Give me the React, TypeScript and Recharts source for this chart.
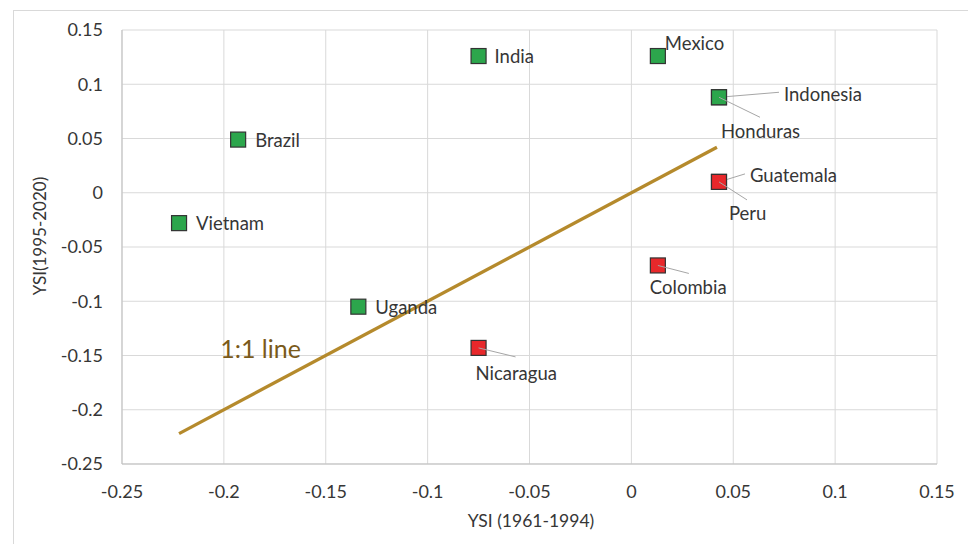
import React from "react";
import {
  ScatterChart,
  Scatter,
  XAxis,
  YAxis,
  CartesianGrid,
  ReferenceLine,
  ReferenceDot,
} from "recharts";

// ---- data ----
const greenCountries = ["Vietnam", "Brazil", "India", "Mexico", "Indonesia", "Honduras", "Uganda"];
const greenX = [-0.222, -0.193, -0.075, 0.013, 0.043, 0.043, -0.134];
const greenY = [-0.028, 0.049, 0.126, 0.126, 0.088, 0.088, -0.105];

const redCountries = ["Guatemala", "Peru", "Colombia", "Nicaragua"];
const redX = [0.043, 0.043, 0.013, -0.075];
const redY = [0.010, 0.010, -0.067, -0.143];

const oneToOneStart = -0.222;
const oneToOneEnd = 0.042;

const axisTicks = [-0.25, -0.2, -0.15, -0.1, -0.05, 0, 0.05, 0.1, 0.15];
const xTitle = "YSI (1961-1994)";
const yTitle = "YSI(1995-2020)";
const lineLabel = "1:1 line";

// ---- label layout (text start / baseline offsets, optional leader endpoint) ----
const LABEL_LAYOUT: Record<string, { dx: number; dy: number; lx?: number; ly?: number }> = {
  Vietnam: { dx: 17, dy: 7 },
  Brazil: { dx: 17, dy: 7 },
  India: { dx: 16, dy: 7 },
  Uganda: { dx: 17, dy: 7 },
  Mexico: { dx: 7, dy: -6 },
  Indonesia: { dx: 65, dy: 4, lx: 60, ly: -5 },
  Honduras: { dx: 2, dy: 41, lx: 41, ly: 20 },
  Guatemala: { dx: 31, dy: 0, lx: 26, ly: -8 },
  Peru: { dx: 10, dy: 38, lx: 28, ly: 18 },
  Colombia: { dx: -8, dy: 29, lx: 31, ly: 8 },
  Nicaragua: { dx: -3, dy: 32, lx: 37, ly: 9 },
};

const greenData = greenCountries.map((name, i) => ({ name, x: greenX[i], y: greenY[i] }));
const redData = redCountries.map((name, i) => ({ name, x: redX[i], y: redY[i] }));

const FONT = "Lato, 'Open Sans', sans-serif";
const TEXT_COLOR = "#363636";

const makeShape = (fill: string) => (props: any) => {
  const { cx, cy, payload } = props;
  if (cx == null || cy == null) return <g />;
  const s = 15;
  const lay = LABEL_LAYOUT[payload?.name] || { dx: 17, dy: 7 };
  return (
    <g>
      <rect x={cx - s / 2} y={cy - s / 2} width={s} height={s} fill={fill} stroke="#333333" strokeWidth={1.2} />
      {lay.lx != null && (
        <line x1={cx} y1={cy} x2={cx + lay.lx} y2={cy + (lay.ly || 0)} stroke="#a6a6a6" strokeWidth={1} />
      )}
      <text x={cx + lay.dx} y={cy + lay.dy} fill={TEXT_COLOR} fontSize={18.5} fontFamily={FONT}>
        {payload?.name}
      </text>
    </g>
  );
};

const GreenShape = makeShape("#2ca64c");
const RedShape = makeShape("#e8282b");

export default function App() {
  return (
    <div style={{ position: "absolute", left: 0, top: 0, width: 968, height: 544, overflow: "hidden", background: "#fff" }}>
      <div
        style={{
          position: "absolute",
          left: 13,
          top: 10,
          width: 1000,
          height: 600,
          border: "1px solid #d9d9d9",
        }}
      />
      <div style={{ position: "absolute", left: 0, top: 0 }}>
        <ScatterChart width={968} height={544} margin={{ top: 30, right: 31, bottom: 30, left: 62 }}>
          <CartesianGrid stroke="#d9d9d9" strokeWidth={1} />
          <XAxis
            type="number"
            dataKey="x"
            domain={[-0.25, 0.15]}
            ticks={axisTicks}
            allowDataOverflow
            height={50}
            tickSize={0}
            tickMargin={21}
            tickLine={false}
            axisLine={{ stroke: "#bfbfbf" }}
            tick={{ fill: TEXT_COLOR, fontSize: 18, fontFamily: FONT }}
            interval={0}
          />
          <YAxis
            type="number"
            dataKey="y"
            domain={[-0.25, 0.15]}
            ticks={axisTicks}
            allowDataOverflow
            width={60}
            tickSize={0}
            tickMargin={19}
            tickLine={false}
            axisLine={{ stroke: "#bfbfbf" }}
            tick={{ fill: TEXT_COLOR, fontSize: 18, fontFamily: FONT }}
            interval={0}
          />
          <ReferenceLine
            segment={[
              { x: oneToOneStart, y: oneToOneStart },
              { x: oneToOneEnd, y: oneToOneEnd },
            ]}
            stroke="#b58a2c"
            strokeWidth={3.3}
          />
          <ReferenceDot
            x={-0.182}
            y={-0.144}
            r={0}
            fill="none"
            stroke="none"
            label={{ value: lineLabel, position: "center", fill: "#7a5a1a", fontSize: 25, fontFamily: FONT }}
          />
          <Scatter data={greenData} shape={GreenShape} isAnimationActive={false} />
          <Scatter data={redData} shape={RedShape} isAnimationActive={false} />
        </ScatterChart>
      </div>
      <svg width={968} height={544} style={{ position: "absolute", left: 0, top: 0, pointerEvents: "none" }}>
        <text x={531} y={527} textAnchor="middle" fill={TEXT_COLOR} fontSize={17.5} fontFamily={FONT}>
          {xTitle}
        </text>
        <text
          x={0}
          y={0}
          transform="translate(46 236) rotate(-90)"
          textAnchor="middle"
          fill={TEXT_COLOR}
          fontSize={17}
          fontFamily={FONT}
        >
          {yTitle}
        </text>
      </svg>
    </div>
  );
}
